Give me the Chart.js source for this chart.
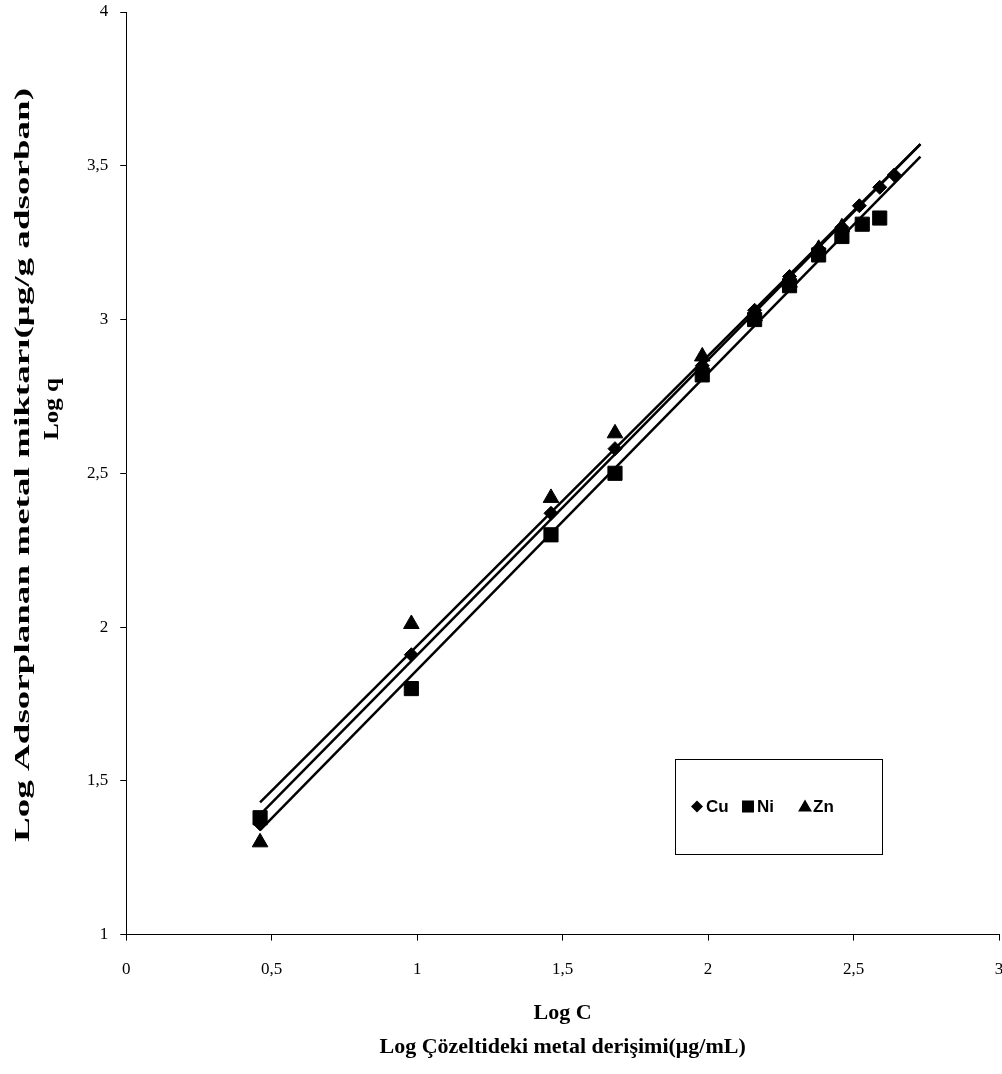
<!DOCTYPE html>
<html>
<head>
<meta charset="utf-8">
<title>Log q - Log C</title>
<script src="https://cdn.jsdelivr.net/npm/chart.js@4.4.0/dist/chart.umd.min.js"></script>
<style>
  html, body { margin: 0; padding: 0; background: #fff; }
</style>
</head>
<body>
<canvas id="isothermChart" width="1002" height="1074"></canvas>
<script>
// measured points (Log C, Log q)
const cuX = [0.46, 0.98, 1.46, 1.68, 1.98, 2.16, 2.28, 2.38, 2.46, 2.52, 2.59, 2.64];
const cuY = [1.36, 1.91, 2.37, 2.58, 2.85, 3.03, 3.14, 3.23, 3.30, 3.37, 3.43, 3.47];
const niX = [0.46, 0.98, 1.46, 1.68, 1.98, 2.16, 2.28, 2.38, 2.46, 2.53, 2.59];
const niY = [1.38, 1.80, 2.30, 2.50, 2.82, 3.00, 3.11, 3.21, 3.27, 3.31, 3.33];
const znX = [0.46, 0.98, 1.46, 1.68, 1.98, 2.16, 2.28, 2.38, 2.46];
const znY = [1.30, 2.01, 2.42, 2.63, 2.88, 3.01, 3.12, 3.23, 3.30];

// linear trend lines (ends)
const trendX = [0.46, 2.73];
const cuTrend = [1.39, 3.57];
const niTrend = [1.34, 3.53];
const znTrend = [1.43, 3.57];

const xTickLabels = ['0', '0,5', '1', '1,5', '2', '2,5', '3'];
const yTickLabels = ['1', '1,5', '2', '2,5', '3', '3,5', '4'];

const xTitleLines = ['Log C', 'Log Çözeltideki metal derişimi(μg/mL)'];
const yTitleLines = ['Log Adsorplanan metal miktarı(μg/g adsorban)', 'Log q'];

function toPoints(xs, ys) {
    return xs.map((x, i) => ({ x: x, y: ys[i] }));
}

// y title is stretched along its length in the original, so it is drawn here
const stretchedYTitle = {
    id: 'stretchedYTitle',
    afterDraw(chart) {
        const ctx = chart.ctx;
        const spots = [
            { x: 23, cy: 465, len: 754 },
            { x: 52, cy: 409, len: 62 }
        ];
        ctx.save();
        ctx.font = 'bold 22px "Liberation Serif"';
        ctx.fillStyle = '#000';
        ctx.textAlign = 'center';
        ctx.textBaseline = 'middle';
        yTitleLines.forEach((text, i) => {
            const s = spots[i];
            const w = ctx.measureText(text).width;
            ctx.save();
            ctx.translate(s.x, s.cy);
            ctx.rotate(-Math.PI / 2);
            ctx.scale(s.len / w, 1);
            ctx.fillText(text, 0, 0);
            ctx.restore();
        });
        ctx.restore();
    }
};

// legend in a framed box inside the plot
const boxLegend = {
    id: 'boxLegend',
    afterDatasetsDraw(chart) {
        const { ctx, scales: { x, y } } = chart;
        const left = Math.round(x.getPixelForValue(1.887));
        const right = Math.round(x.getPixelForValue(2.598));
        const top = Math.round(y.getPixelForValue(1.57));
        const bottom = Math.round(y.getPixelForValue(1.261));
        const midY = (top + bottom) / 2;
        ctx.save();
        ctx.strokeStyle = '#000';
        ctx.lineWidth = 1;
        ctx.strokeRect(left + 0.5, top + 0.5, right - left, bottom - top);
        ctx.font = 'bold 17px "Liberation Sans"';
        ctx.fillStyle = '#000';
        ctx.textBaseline = 'middle';
        const items = [
            { label: 'Cu', style: 'rectRot', r: 6, mark: 22, text: 31 },
            { label: 'Ni', style: 'rect', r: 8.5, mark: 73, text: 82 },
            { label: 'Zn', style: 'triangle', r: 8, mark: 130, text: 138 }
        ];
        items.forEach(it => {
            Chart.helpers.drawPoint(ctx, { pointStyle: it.style, radius: it.r, borderWidth: 0, rotation: 0 },
                left + it.mark, midY + (it.style === 'triangle' ? 1 : 0));
            ctx.fillText(it.label, left + it.text, midY + 1);
        });
        ctx.restore();
    }
};

const pointSet = (label, xs, ys, style, radius) => ({
    label: label,
    data: toPoints(xs, ys),
    pointStyle: style,
    pointRadius: radius,
    pointBackgroundColor: '#000',
    pointBorderColor: '#000',
    pointBorderWidth: 1,
    showLine: false
});

const trendSet = (label, ys) => ({
    label: label,
    data: toPoints(trendX, ys),
    showLine: true,
    borderColor: '#000',
    borderWidth: 2.5,
    pointRadius: 0,
    fill: false
});

const serif = '"Liberation Serif", "Times New Roman", serif';

const ctx = document.getElementById('isothermChart').getContext('2d');
const isothermChart = new Chart(ctx, {
    type: 'scatter',
    data: {
        datasets: [
            trendSet('Cu trend', cuTrend),
            trendSet('Ni trend', niTrend),
            trendSet('Zn trend', znTrend),
            pointSet('Cu', cuX, cuY, 'rectRot', 7),
            pointSet('Ni', niX, niY, 'rect', 10),
            pointSet('Zn', znX, znY, 'triangle', 9)
        ]
    },
    options: {
        responsive: false,
        animation: false,
        layout: {
            autoPadding: false,
            padding: { left: 75, top: 12, right: 3, bottom: 0 }
        },
        scales: {
            x: {
                type: 'linear',
                min: 0,
                max: 3,
                afterFit: (scale) => { scale.paddingLeft = 0; scale.paddingRight = 0; },
                ticks: {
                    stepSize: 0.5,
                    padding: 19,
                    maxRotation: 0,
                    color: '#000',
                    font: { family: serif, size: 17 },
                    callback: (value, index) => xTickLabels[index]
                },
                grid: { drawOnChartArea: false, tickLength: 6, color: '#000' },
                border: { color: '#000', width: 1 },
                title: {
                    display: true,
                    text: xTitleLines,
                    color: '#000',
                    font: { family: serif, size: 22, weight: 'bold', lineHeight: 34 / 22 },
                    padding: { top: -3, bottom: 10 }
                }
            },
            y: {
                type: 'linear',
                min: 1,
                max: 4,
                afterFit: (scale) => { scale.paddingTop = 0; scale.paddingBottom = 0; },
                ticks: {
                    stepSize: 0.5,
                    padding: 12,
                    color: '#000',
                    font: { family: serif, size: 17 },
                    callback: (value, index) => yTickLabels[index]
                },
                grid: { drawOnChartArea: false, tickLength: 6, color: '#000' },
                border: { color: '#000', width: 1 }
            }
        },
        plugins: {
            legend: { display: false },
            tooltip: { enabled: false }
        }
    },
    plugins: [stretchedYTitle, boxLegend]
});
</script>
</body>
</html>
